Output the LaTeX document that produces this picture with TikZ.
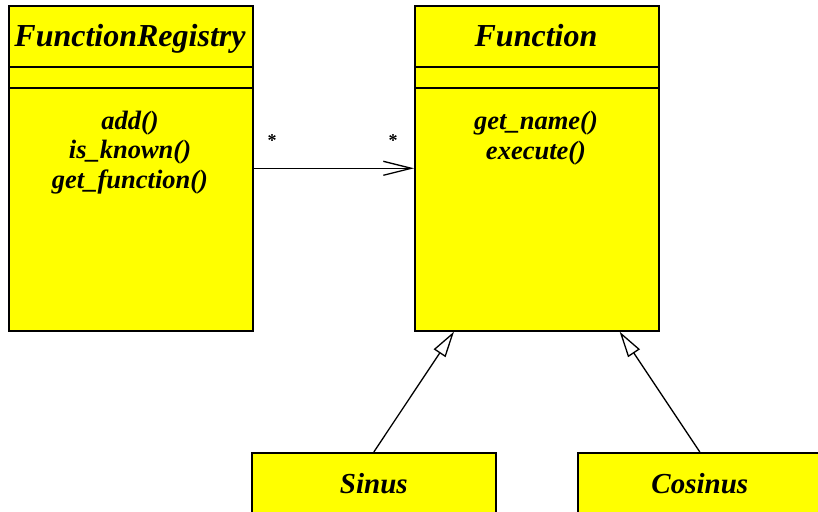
\documentclass[tikz,border=0pt]{standalone}
\usepackage{fontspec}
\setmainfont{Liberation Serif}
\usetikzlibrary{arrows.meta}
\definecolor{umlyellow}{HTML}{FFFF00}
\tikzset{
  classbox/.style={draw=black, line width=1.6pt, fill=umlyellow, rectangle, inner sep=0pt},
  title/.style={font=\fontsize{32}{38}\selectfont\bfseries\itshape, inner sep=0pt, anchor=base},
  subtitle/.style={font=\fontsize{29}{34}\selectfont\bfseries\itshape, inner sep=0pt},
  methods/.style={font=\fontsize{26.5}{29.8}\selectfont\bfseries\itshape, inner sep=0pt, align=center, anchor=north},
  divider/.style={line width=1.6pt},
  assoc/.style={line width=1.3pt, -{Straight Barb[length=28pt,width=14pt,line width=1.3pt]}},
  inherit/.style={line width=1.3pt, -{Triangle[open,length=26pt,width=14pt,fill=white,line width=1.3pt]}},
  mult/.style={font=\fontsize{18}{20}\selectfont\bfseries, inner sep=0pt}
}
\begin{document}
\begin{tikzpicture}[x=1pt,y=-1pt]
\useasboundingbox (0,0) rectangle (818,511);
\clip (0,0) rectangle (818,511);
% FunctionRegistry
\node[classbox, minimum width=244pt, minimum height=325pt, anchor=north west] (reg) at (8,5) {};
\draw[divider] (8,67) -- (252,67);
\draw[divider] (8,88) -- (252,88);
\node[title] (regtitle) at (130,47) {FunctionRegistry};
\node[methods] (regmeth) at (130,110.5) {add()\\is\_known()\\get\_function()};
% Function
\node[classbox, minimum width=244pt, minimum height=325pt, anchor=north west] (fun) at (414,5) {};
\draw[divider] (414,67) -- (658,67);
\draw[divider] (414,88) -- (658,88);
\node[title] (funtitle) at (536,47) {Function};
\node[methods] (funmeth) at (536,111) {get\_name()\\execute()};
% Sinus, Cosinus
\node[classbox, minimum width=244pt, minimum height=62pt, anchor=north west] (sin) at (251,452) {};
\node[subtitle] (sintitle) at (sin.center) {Sinus};
\node[classbox, minimum width=244pt, minimum height=62pt, anchor=north west] (cos) at (577,452) {};
\node[subtitle] (costitle) at (cos.center) {Cosinus};
% association
\draw[assoc] (reg.east) -- (fun.west);
\node[mult] (m1) at (272,141) {*};
\node[mult] (m2) at (393,141) {*};
% inheritance
\draw[inherit] (sin.north) -- ([xshift=40pt]fun.south west);
\draw[inherit] (cos.north) -- ([xshift=-40pt]fun.south east);
\end{tikzpicture}
\end{document}
